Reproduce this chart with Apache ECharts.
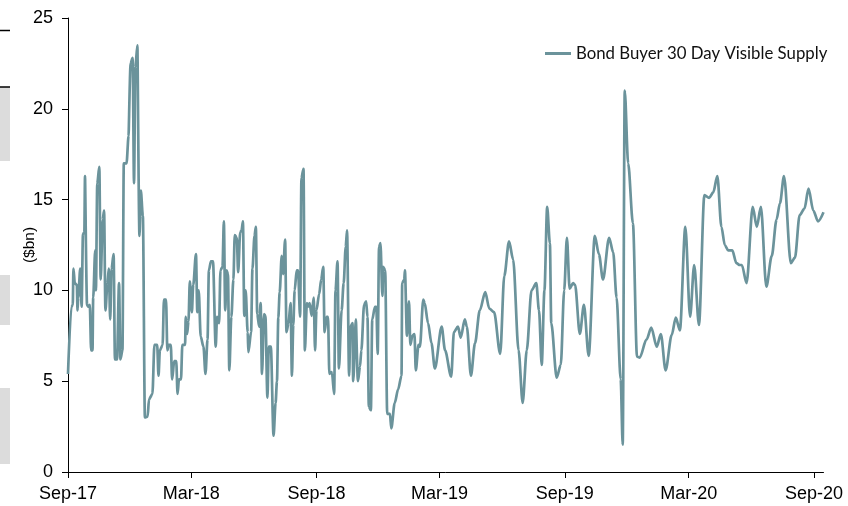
<!DOCTYPE html>
<html>
<head>
<meta charset="utf-8">
<script src="https://cdn.jsdelivr.net/npm/echarts@6/dist/echarts.min.js"></script>
<style>html,body{margin:0;padding:0;background:#fff}#c{width:848px;height:506px}</style>
</head>
<body>
<div id="c"></div>
<script>
// x values: days since 1 Sep 2017
const dayOffsets = [0,5,7,8,10,13,14,15,18,20,22,24,25,26,28,30,32,34,36,37,40,41,43,46,48,51,53,55,58,60,62,64,67,69,72,75,77,80,82,86,89,90,92,95,97,99,102,103,105,107,110,113,117,119,124,127,131,133,135,139,141,144,146,148,151,153,156,159,161,163,166,168,172,173,175,177,179,182,184,188,190,192,195,199,202,205,207,210,213,217,219,222,224,227,229,231,233,235,237,240,243,245,248,250,253,255,257,259,261,264,265,269,271,274,276,278,281,283,285,288,290,293,295,298,302,305,307,309,311,314,316,319,321,324,327,329,331,333,336,338,341,343,346,348,351,353,355,358,361,363,365,369,372,375,377,380,382,384,387,388,391,393,396,398,402,405,408,410,413,415,418,419,423,424,426,429,431,435,438,440,442,445,447,451,453,455,457,459,462,463,466,469,473,475,480,485,490,491,494,495,498,501,503,506,509,511,515,517,522,524,529,534,539,549,554,563,567,573,577,583,586,592,598,605,613,619,626,635,641,648,654,662,668,674,681,688,692,696,700,704,708,710,718,724,729,733,737,742,745,752,758,765,774,780,786,795,801,806,812,815,818,823,830,836,840,850,857,865,871,878,887,893,899,907,914,920,927,935,942,948,954,960,965,970,976,982,987,990,997,1006,1012,1018,1026,1034,1041,1046,1052,1062,1068,1075,1082,1088,1095,1102,1110];
const supply = [5.4,9.1,9.2,11.2,10.4,10.3,8.9,9.6,11.2,9.1,13.1,13.2,16.3,16.3,9.2,9.1,9.2,6.7,6.7,9.6,12.2,10.0,15.9,16.8,10.6,13.9,14.4,8.9,10.4,11.2,8.4,11.2,12.0,6.2,6.2,10.4,6.2,6.7,17.0,17.0,18.5,18.5,22.5,22.8,15.9,22.3,23.5,23.5,13.0,15.5,14.1,3.0,3.05,4.0,4.3,7.0,7.0,5.3,6.7,7.0,9.5,9.5,6.7,7.0,7.0,5.1,6.1,6.1,4.3,5.1,5.1,7.0,7.0,8.55,7.6,8.3,10.5,8.8,10.3,12.0,8.8,10.0,7.45,6.9,5.4,7.3,11.1,11.6,11.6,6.9,8.55,8.2,11.1,11.3,13.8,8.9,11.1,10.9,5.6,8.55,10.6,13.05,12.9,11.0,13.2,13.3,13.8,8.6,10.0,7.7,6.6,7.7,11.2,13.0,13.5,8.7,8.0,9.3,5.4,8.7,8.6,4.1,6.9,6.9,2.0,3.8,5.0,8.5,9.9,11.9,10.9,12.8,7.7,8.2,9.3,5.3,8.1,10.0,11.1,11.1,8.55,16.2,16.7,6.7,9.3,9.1,9.3,8.6,9.6,6.7,8.9,9.8,10.6,11.3,7.7,8.55,8.55,5.4,5.5,5.4,4.3,10.0,11.6,5.7,8.9,10.4,12.4,13.3,5.3,8.0,8.2,5.0,8.4,8.4,5.0,5.8,6.7,9.2,9.4,8.55,3.6,3.4,8.4,9.1,9.1,6.5,12.4,12.6,9.7,11.3,11.1,3.2,3.2,2.4,3.8,4.55,5.3,10.4,10.6,11.1,7.5,9.4,7.0,7.5,7.6,5.6,7.0,6.9,9.5,9.3,8.2,7.1,5.7,8.0,6.7,5.25,7.7,8.0,7.4,8.4,8.0,5.3,7.1,8.9,9.9,9.0,8.8,6.5,10.8,12.7,11.7,6.7,3.8,6.7,10.0,10.4,8.9,5.9,10.0,14.6,12.6,8.2,5.2,5.9,10.0,12.9,10.1,10.4,10.3,7.6,9.2,6.4,13.0,12.0,10.6,12.9,12.1,9.6,5.1,1.5,21.0,17.0,13.7,6.35,6.3,7.3,7.95,6.9,7.6,5.6,7.55,8.5,7.8,13.5,8.55,11.4,8.1,15.25,15.1,15.4,16.3,13.5,12.5,12.2,12.2,11.5,11.4,11.4,10.4,14.6,13.5,14.6,10.2,11.9,13.9,14.8,16.3,11.5,11.8,14.15,14.5,15.6,14.4,13.8,14.3];
// tick positions (days since 1 Sep 2017) and their labels
const tickDays = [0,181,365,546,730,912,1096];
const tickLabels = ['Sep-17','Mar-18','Sep-18','Mar-19','Sep-19','Mar-20','Sep-20'];
const seriesName = 'Bond Buyer 30 Day Visible Supply';

const chart = echarts.init(document.getElementById('c'), null, {renderer:'canvas'});
const axisFont = {fontFamily:'Liberation Sans, Arial, sans-serif', fontSize:18, color:'#000'};
chart.setOption({
  animation:false,
  backgroundColor:'#fff',
  grid:{left:68, right:24.5, top:18, bottom:34, containLabel:false},
  legend:{
    left:545, top:45, padding:0, itemWidth:26, itemHeight:3, itemGap:0,
    icon:'rect',
    data:[seriesName],
    textStyle:{fontFamily:'Lato, sans-serif', fontSize:16.8, color:'#111'}
  },
  xAxis:{
    type:'value', min:0, max:1110,
    axisLine:{show:true, lineStyle:{color:'#000', width:1}},
    axisTick:{show:true, length:6, inside:false, customValues:tickDays, lineStyle:{color:'#000'}},
    axisLabel:Object.assign({customValues:tickDays, margin:13,
      formatter:function(v){const i=tickDays.indexOf(v);return i>=0?tickLabels[i]:'';}}, axisFont),
    splitLine:{show:false}
  },
  yAxis:{
    type:'value', min:0, max:25, interval:5,
    name:'($bn)', nameLocation:'middle', nameGap:30, nameMoveOverlap:false,
    nameTextStyle:{fontFamily:'Liberation Sans, Arial, sans-serif', fontSize:15.5, color:'#000'},
    axisLine:{show:true, lineStyle:{color:'#000', width:1}},
    axisTick:{show:true, length:6, inside:false, lineStyle:{color:'#000'}},
    axisLabel:Object.assign({margin:15}, axisFont),
    splitLine:{show:false}
  },
  graphic:[
    {type:'rect', shape:{x:0,y:87,width:10,height:74}, style:{fill:'#dcdcdc'}},
    {type:'rect', shape:{x:0,y:275,width:10,height:50}, style:{fill:'#dcdcdc'}},
    {type:'rect', shape:{x:0,y:388,width:10,height:76}, style:{fill:'#dcdcdc'}},
    {type:'line', shape:{x1:0,y1:30.5,x2:10,y2:30.5}, style:{stroke:'#000', lineWidth:1.5}},
    {type:'line', shape:{x1:0,y1:87,x2:10,y2:87}, style:{stroke:'#000', lineWidth:1.5}}
  ],
  series:[{
    name:seriesName, type:'line',
    data:dayOffsets.map((d,i)=>[d, supply[i]]),
    symbol:'none', smooth:0.3, smoothMonotone:'x',
    lineStyle:{color:'#6b939b', width:2.7},
    itemStyle:{color:'#6b939b'}
  }]
});
</script>
</body>
</html>
